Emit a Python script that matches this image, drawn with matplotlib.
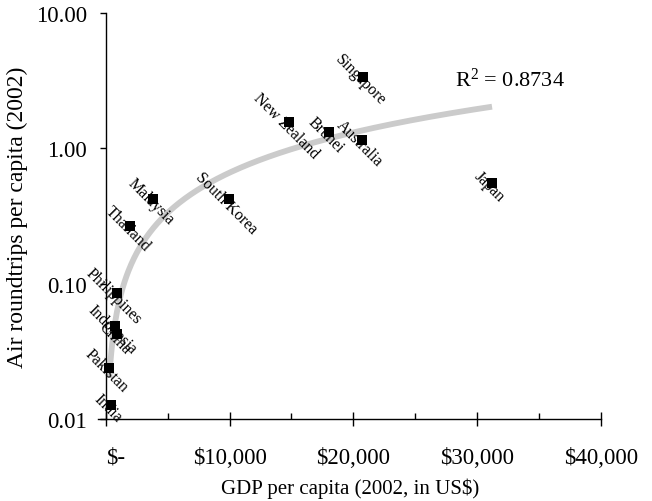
import numpy as np
import matplotlib
matplotlib.use("Agg")
import matplotlib.pyplot as plt
from matplotlib.ticker import FixedLocator

countries = ["Singapore", "New Zealand", "Brunei", "Australia", "Japan",
             "South Korea", "Malaysia", "Thailand", "Philippines",
             "Indonesia", "China", "Pakistan", "India"]
gdp = [20800, 14800, 18000, 20700, 31200, 9950, 3850, 2000, 890,
       750, 940, 290, 400]
trips = [3.39, 1.56, 1.32, 1.15, 0.55, 0.42, 0.425, 0.267, 0.085,
         0.0486, 0.0422, 0.0239, 0.0126]
r2_text = "R$^2$ = 0.8734"
xticks = [0, 10000, 20000, 30000, 40000]
xtick_labels = ["$-", "$10,000", "$20,000", "$30,000", "$40,000"]
yticks = [0.01, 0.1, 1, 10]
ytick_labels = ["0.01", "0.10", "1.00", "10.00"]

plt.rcParams['font.family'] = ['Liberation Serif', 'DejaVu Serif']
plt.rcParams['mathtext.fontset'] = 'custom'
plt.rcParams['mathtext.rm'] = 'Liberation Serif'
plt.rcParams['mathtext.it'] = 'Liberation Serif'

fig = plt.figure(figsize=(6.52, 5.02), dpi=100)
ax = fig.add_axes([98.3/652, 1-420/502, (601-98.3)/652, (420-14)/502])

# power-law trend line
lx = np.log10(gdp); ly = np.log10(trips)
b, a = np.polyfit(lx, ly, 1)
xs = np.linspace(min(gdp), max(gdp), 400)
ax.plot(xs, 10**(a + b*np.log10(xs)), color='#cbcbcb', lw=4.2, zorder=1,
        solid_capstyle='butt')

ax.scatter(gdp, trips, marker='s', s=42, color='black', zorder=3, linewidths=0)
for c, x, y in zip(countries, gdp, trips):
    ax.annotate(c, (x, y), xytext=(-2, -2), textcoords='offset points',
                rotation=-45, rotation_mode='anchor', ha='center', va='center',
                fontsize=11.5, zorder=4)

ax.text(28170, 3.24, r2_text, ha='left', va='center', fontsize=16)

ax.set_yscale('log')
ax.set_xlim(-600, 40000)
ax.set_ylim(0.01, 10)
ax.spines['top'].set_visible(False)
ax.spines['right'].set_visible(False)
ax.spines['left'].set_position(('data', 0))
for s in ['left', 'bottom']:
    ax.spines[s].set_linewidth(1.0)

ax.xaxis.set_major_locator(FixedLocator(xticks))
ax.set_xticklabels(xtick_labels)
ax.xaxis.set_minor_locator(FixedLocator([5000, 15000, 25000, 35000]))
ax.yaxis.set_major_locator(FixedLocator(yticks))
ax.set_yticklabels(ytick_labels)
ax.yaxis.set_minor_locator(FixedLocator([]))
ax.tick_params(axis='x', which='major', direction='inout', length=10, width=1,
               pad=15, labelsize=16.5)
ax.tick_params(axis='x', which='minor', direction='in', length=4.5, width=1)
ax.tick_params(axis='y', which='major', direction='out', length=4.5, width=1,
               pad=9, labelsize=16.5)
ax.get_xticklabels()[0].set_ha('left')

ax.set_xlabel("GDP per capita (2002, in US$)", fontsize=15, labelpad=7)
ax.set_ylabel("Air roundtrips per capita (2002)", fontsize=17, labelpad=6)

fig.savefig("out.png", dpi=100)
